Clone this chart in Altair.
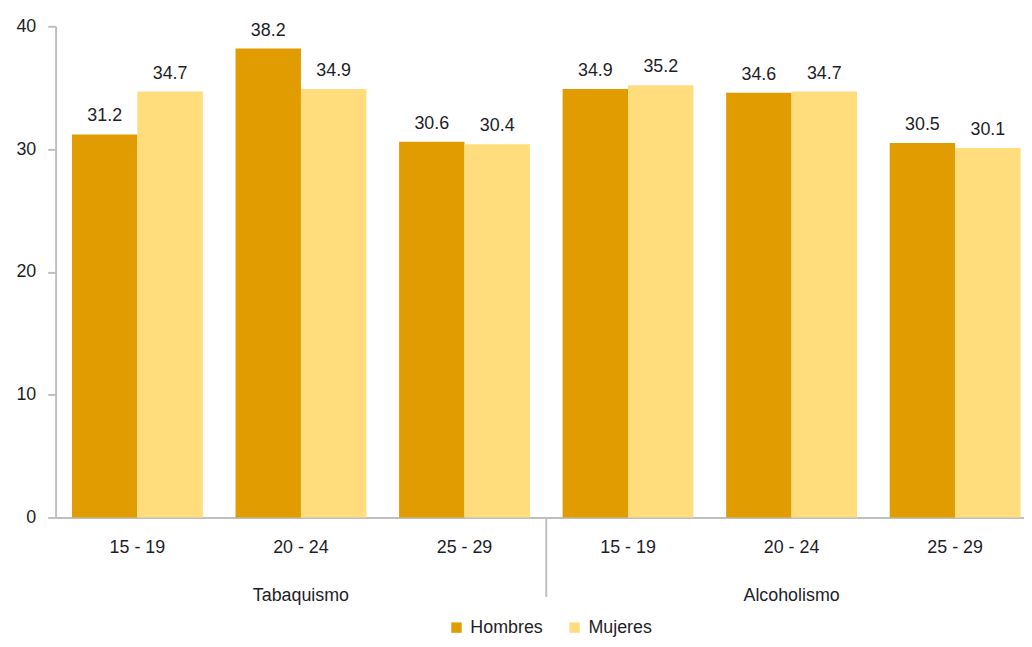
import altair as alt
import pandas as pd

grupos = ["Tabaquismo", "Alcoholismo"]
edades = ["15 - 19", "20 - 24", "25 - 29"]
series = ["Hombres", "Mujeres"]
hombres = [31.2, 38.2, 30.6, 34.9, 34.6, 30.5]
mujeres = [34.7, 34.9, 30.4, 35.2, 34.7, 30.1]
colores = ["#E09C00", "#FFDD7D"]
y_ticks = [0, 10, 20, 30, 40]

keys = [f"{g}|{e}" for g in grupos for e in edades]
rows = []
for i, k in enumerate(keys):
    rows.append({"key": k, "sexo": series[0], "valor": hombres[i]})
    rows.append({"key": k, "sexo": series[1], "valor": mujeres[i]})
df = pd.DataFrame(rows)

sep_df = pd.DataFrame({"key": [keys[2]]})
grp_df = pd.DataFrame({"key": [keys[1], keys[4]], "grupo": grupos})

FONT = "Liberation Sans"
TXT = "#1e1e28"
AX = "#BFBFBF"

W_FULL = 989
xscale = alt.Scale(domain=keys, range=[0, W_FULL], paddingInner=0, paddingOuter=0)
xoff = alt.XOffset("sexo:N", scale=alt.Scale(domain=series, paddingOuter=0.25, paddingInner=0))
yscale = alt.Scale(domain=[0, 40], nice=False)

x_axis = alt.Axis(
    title=None, labelExpr="split(datum.label, '|')[1]", labelAngle=0,
    labelFontSize=18, labelFont=FONT, labelColor=TXT, labelPadding=21,
    ticks=False, domainColor=AX, domainWidth=2, grid=False,
)
y_axis = alt.Axis(
    title=None, values=y_ticks, labelFontSize=18, labelFont=FONT, labelColor=TXT,
    tickSize=8, tickColor=AX, tickWidth=2, domainColor=AX, domainWidth=2,
    labelPadding=12, grid=False,
)

bars = alt.Chart(df).mark_bar().encode(
    x=alt.X("key:N", scale=xscale, axis=x_axis, sort=keys),
    xOffset=xoff,
    y=alt.Y("valor:Q", scale=yscale, axis=y_axis),
    color=alt.Color(
        "sexo:N", scale=alt.Scale(domain=series, range=colores),
        legend=alt.Legend(
            title=None, orient="none", legendX=395, legendY=597, direction="horizontal",
            symbolType="square", symbolSize=110, symbolStrokeWidth=0, labelFontSize=18,
            labelFont=FONT, labelColor=TXT, columnPadding=22, labelOffset=5, padding=0,
        ),
    ),
)

labels = alt.Chart(df).mark_text(
    fontSize=18, font=FONT, color=TXT, baseline="alphabetic", dy=-13
).encode(
    x=alt.X("key:N", scale=xscale, sort=keys),
    xOffset=xoff,
    y=alt.Y("valor:Q", scale=yscale),
    text=alt.Text("valor:Q", format=".1f"),
)

sep = alt.Chart(sep_df).mark_rule(color=AX, strokeWidth=2).encode(
    x=alt.X("key:N", scale=xscale, sort=keys, bandPosition=1),
    y=alt.value(495),
    y2=alt.value(575),
)

grp = alt.Chart(grp_df).mark_text(
    fontSize=18, font=FONT, color=TXT, baseline="middle"
).encode(
    x=alt.X("key:N", scale=xscale, sort=keys, bandPosition=0.5),
    y=alt.value(574),
    text="grupo:N",
)

chart = alt.layer(bars, labels, sep, grp).properties(
    width=976, height=495,
    title=alt.TitleParams("2020", font="Liberation Serif", fontSize=20, fontWeight="bold",
                          color="#000000", anchor="middle", offset=9, dx=-32,
                          baseline="alphabetic", frame="group"),
    autosize=alt.AutoSizeParams(type="none"),
    padding={"left": 48, "top": 16, "right": 0, "bottom": 120},
).configure_view(stroke=None, clip=False)

chart.save("out.html", embed_options={"renderer": "svg", "actions": False})
